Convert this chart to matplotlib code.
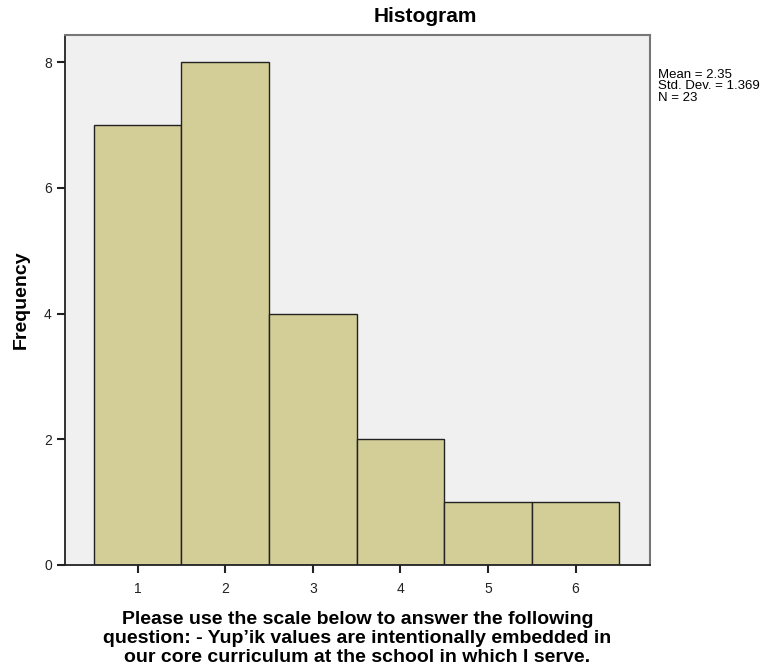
import matplotlib
matplotlib.use("Agg")
import matplotlib.pyplot as plt

plt.rcParams['font.family'] = ['Liberation Sans', 'DejaVu Sans']

categories = [1, 2, 3, 4, 5, 6]
frequencies = [7, 8, 4, 2, 1, 1]
yticks = [0, 2, 4, 6, 8]
title = "Histogram"
xlabel = ("Please use the scale below to answer the following\n"
          "question: - Yup\u2019ik values are intentionally embedded in\n"
          "our core curriculum at the school in which I serve.")
ylabel = "Frequency"
stats = "Mean = 2.35\nStd. Dev. = 1.369\nN = 23"

W, H = 778, 668
fig = plt.figure(figsize=(W / 100, H / 100), dpi=100)
ax = fig.add_axes([65 / W, 1 - 565 / H, (650 - 65) / W, (565 - 35) / H])
ax.set_facecolor('#F0F0F0')

ax.bar(categories, frequencies, width=1.0, color='#D3CE97',
       edgecolor='#222222', linewidth=1.0, zorder=2)

ax.set_xlim(0.17, 6.85)
ax.set_ylim(0, 8.43)
ax.set_xticks(categories)
ax.set_yticks(yticks)
ax.tick_params(axis='both', labelsize=10, colors='#222222', length=6, width=1.5)
ax.tick_params(axis='x', pad=6)
for s in ['left', 'bottom']:
    ax.spines[s].set_color('#222222')
    ax.spines[s].set_linewidth(1.3)
for s in ['top', 'right']:
    ax.spines[s].set_color('#777777')
    ax.spines[s].set_linewidth(1.5)

ax.set_ylabel(ylabel, fontsize=14, fontweight='bold', labelpad=10)
ax.set_xlabel(xlabel, fontsize=14, fontweight='bold', labelpad=11, linespacing=1.17)

fig.text(425 / W, 1 - 17 / H, title, fontsize=15, fontweight='bold', ha='center', va='center')
fig.text(658 / W, 1 - 68.5 / H, stats, fontsize=9.5, ha='left', va='top', linespacing=0.97)

fig.savefig("out.png", dpi=100)
